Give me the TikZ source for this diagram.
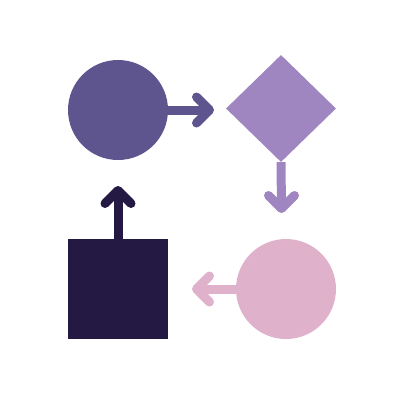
\documentclass[tikz,border=0pt]{standalone}
\usetikzlibrary{shapes.geometric}
\definecolor{cA}{HTML}{5E548E}
\definecolor{cB}{HTML}{9F86C0}
\definecolor{cC}{HTML}{E0B1CB}
\definecolor{cD}{HTML}{231942}
\tikzset{
  shaft/.style={line width=9pt, line cap=butt},
  chev/.style={line width=9pt, line cap=round, line join=round},
}
\begin{document}
\begin{tikzpicture}[x=1pt,y=-1pt]
\useasboundingbox (0,0) rectangle (400,400);
\node[circle, fill=cA, minimum size=100pt, inner sep=0pt] (c1) at (118,110) {};
\node[diamond, fill=cB, minimum width=110pt, minimum height=107pt, inner sep=0pt] (d1) at (281,108.5) {};
\node[circle, fill=cC, minimum size=100pt, inner sep=0pt] (c2) at (286,289) {};
\node[rectangle, fill=cD, minimum size=100pt, inner sep=0pt] (s1) at (118,289) {};
\coordinate (t1) at (209.5,110);
\coordinate (t2) at (281.5,208.5);
\coordinate (t3) at (196.5,289);
\coordinate (t4) at (118,190.5);
% arrow 1
\draw[cA, shaft] (c1.east) -- (t1);
\draw[cA, chev] ([shift={(-13,-13)}]t1) -- (t1) -- ([shift={(-13,13)}]t1);
% arrow 2
\draw[cB, shaft] (d1.south) -- (t2);
\draw[cB, chev] ([shift={(-13,-13)}]t2) -- (t2) -- ([shift={(13,-13)}]t2);
% arrow 3
\draw[cC, shaft] (c2.west) -- (t3);
\draw[cC, chev] ([shift={(13,-13)}]t3) -- (t3) -- ([shift={(13,13)}]t3);
% arrow 4
\draw[cD, shaft] (s1.north) -- (t4);
\draw[cD, chev] ([shift={(-13,13)}]t4) -- (t4) -- ([shift={(13,13)}]t4);
\end{tikzpicture}
\end{document}
